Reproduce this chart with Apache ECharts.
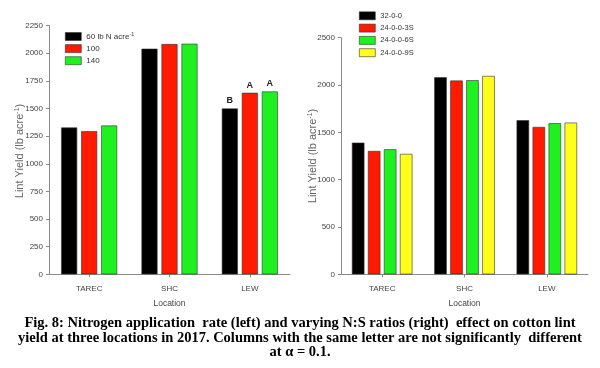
<!DOCTYPE html>
<html>
<head>
<meta charset="utf-8">
<script src="https://cdn.jsdelivr.net/npm/echarts@6/dist/echarts.min.js"></script>
<style>html,body{margin:0;padding:0;background:#fff;}#c{width:600px;height:368px;}</style>
</head>
<body>
<div id="c"></div>
<script>
var locations = ['TAREC', 'SHC', 'LEW'];
// Left panel: nitrogen rate
var nNames = ['60 lb N acre-1', '100', '140'];
var n60 = [1328, 2041, 1500];
var n100 = [1295, 2083, 1642];
var n140 = [1346, 2086, 1654];
var nLetters = [['', '', 'B'], ['', '', 'A'], ['', '', 'A']];
var leftTicks = [0, 250, 500, 750, 1000, 1250, 1500, 1750, 2000, 2250];
// Right panel: N:S ratios
var sNames = ['32-0-0', '24-0-0-3S', '24-0-0-6S', '24-0-0-9S'];
var s32 = [1391, 2082, 1628];
var s3 = [1303, 2047, 1557];
var s6 = [1321, 2051, 1596];
var s9 = [1272, 2096, 1603];
var rightTicks = [0, 500, 1000, 1500, 2000, 2500];
var yTitle = 'Lint Yield (lb acre{sup|-1})';

var colors3 = ['#000000', '#ff1a00', '#1ff01f'];
var colors4 = ['#000000', '#ff1a00', '#1ff01f', '#ffff1a'];
var sans = '"Liberation Sans Narrow", "Liberation Sans", Arial';
var axisGray = '#8a8a8a';

function mkX(gi) {
  return {
    type: 'category', gridIndex: gi, data: locations,
    name: 'Location', nameLocation: 'middle', nameGap: 25,
    nameTextStyle: {fontFamily: sans, fontSize: 8.5, color: '#444'},
    axisLine: {lineStyle: {color: axisGray, width: 1}},
    axisTick: {show: true, alignWithLabel: true, length: 3, lineStyle: {color: axisGray}},
    axisLabel: {margin: 10, fontFamily: sans, fontSize: 8, color: '#444'},
    splitLine: {show: false}
  };
}
function mkY(gi, ticks) {
  return {
    type: 'value', gridIndex: gi, min: ticks[0], max: ticks[ticks.length - 1],
    interval: ticks[1] - ticks[0],
    axisLine: {show: true, lineStyle: {color: axisGray, width: 1}},
    axisTick: {show: true, length: 3, lineStyle: {color: axisGray}},
    axisLabel: {margin: 6, fontFamily: sans, fontSize: 8, color: '#444',
      formatter: function (v) { return String(v); }},
    splitLine: {show: false}
  };
}
function barSeries(name, data, color, xi, letters) {
  return {
    type: 'bar', name: name, xAxisIndex: xi, yAxisIndex: xi,
    data: data.map(function (v, i) {
      var d = {value: v};
      if (letters && letters[i]) {
        d.label = {show: true, position: 'top', distance: 3, formatter: letters[i],
          fontFamily: '"Liberation Sans", Arial', fontWeight: 'bold', fontSize: 9, color: '#222'};
      }
      return d;
    }),
    itemStyle: {color: color, borderColor: '#333', borderWidth: 0.6},
    barGap: xi === 0 ? '25%' : '28%',
    barCategoryGap: xi === 0 ? '30%' : '26%',
    barWidth: xi === 0 ? 16 : 12.5
  };
}
var series = [];
var nData = [n60, n100, n140];
for (var i = 0; i < 3; i++) series.push(barSeries(nNames[i], nData[i], colors3[i], 0, nLetters[i]));
var sData = [s32, s3, s6, s9];
for (var j = 0; j < 4; j++) series.push(barSeries(sNames[j], sData[j], colors4[j], 1, null));

function legendText(fs) {
  return {fontFamily: sans, fontSize: fs, color: '#333',
    rich: {sup: {fontSize: 5.5, verticalAlign: 'top', padding: [0, 0, 5, 0], fontFamily: sans, color: '#333'}}};
}
var capFont = 'bold 14.5px "Liberation Serif", "Times New Roman", serif';
function yTitleGraphic(x, y) {
  return {type: 'text', x: x, y: y, rotation: Math.PI / 2, silent: true,
    style: {text: yTitle, align: 'center', verticalAlign: 'middle', fill: '#666',
      font: '11px "Liberation Sans", Arial',
      rich: {sup: {fontSize: 7, fill: '#666', verticalAlign: 'top', padding: [0, 0, 6, 0], fontFamily: '"Liberation Sans", Arial'}}}};
}

var chart = echarts.init(document.getElementById('c'), null, {renderer: 'canvas'});
chart.setOption({
  backgroundColor: '#fff',
  animation: false,
  grid: [
    {left: 49, right: 310, top: 25.6, bottom: 93.7, containLabel: false},
    {left: 341, right: 12, top: 37.7, bottom: 93.7, containLabel: false}
  ],
  xAxis: [mkX(0), mkX(1)],
  yAxis: [mkY(0, leftTicks), mkY(1, rightTicks)],
  legend: [
    {data: nNames, orient: 'vertical', left: 65, top: 31, padding: 0, itemWidth: 16, itemHeight: 8, itemGap: 3.5,
      itemTextGap: 4, icon: 'rect', textStyle: legendText(8),
      formatter: function (n) { return n === nNames[0] ? '60 lb N acre{sup|-1}' : n; },
      itemStyle: {borderColor: '#333', borderWidth: 0.6}},
    {data: sNames, orient: 'vertical', left: 359, top: 11.5, padding: 0, itemWidth: 16, itemHeight: 8, itemGap: 3.7,
      itemTextGap: 4, icon: 'rect', textStyle: legendText(7.5),
      itemStyle: {borderColor: '#333', borderWidth: 0.6}}
  ],
  graphic: [
    yTitleGraphic(20, 151),
    yTitleGraphic(313, 156),
    {type: 'text', left: 'center', top: 315.5, style: {text: 'Fig. 8: Nitrogen application  rate (left) and varying N:S ratios (right)  effect on cotton lint',
      font: capFont, fill: '#000'}},
    {type: 'text', left: 'center', top: 330.5, style: {text: 'yield at three locations in 2017. Columns with the same letter are not significantly  different',
      font: capFont, fill: '#000'}},
    {type: 'text', left: 'center', top: 345, style: {text: 'at \u03b1 = 0.1.',
      font: capFont, fill: '#000'}}
  ],
  series: series
});
</script>
</body>
</html>
